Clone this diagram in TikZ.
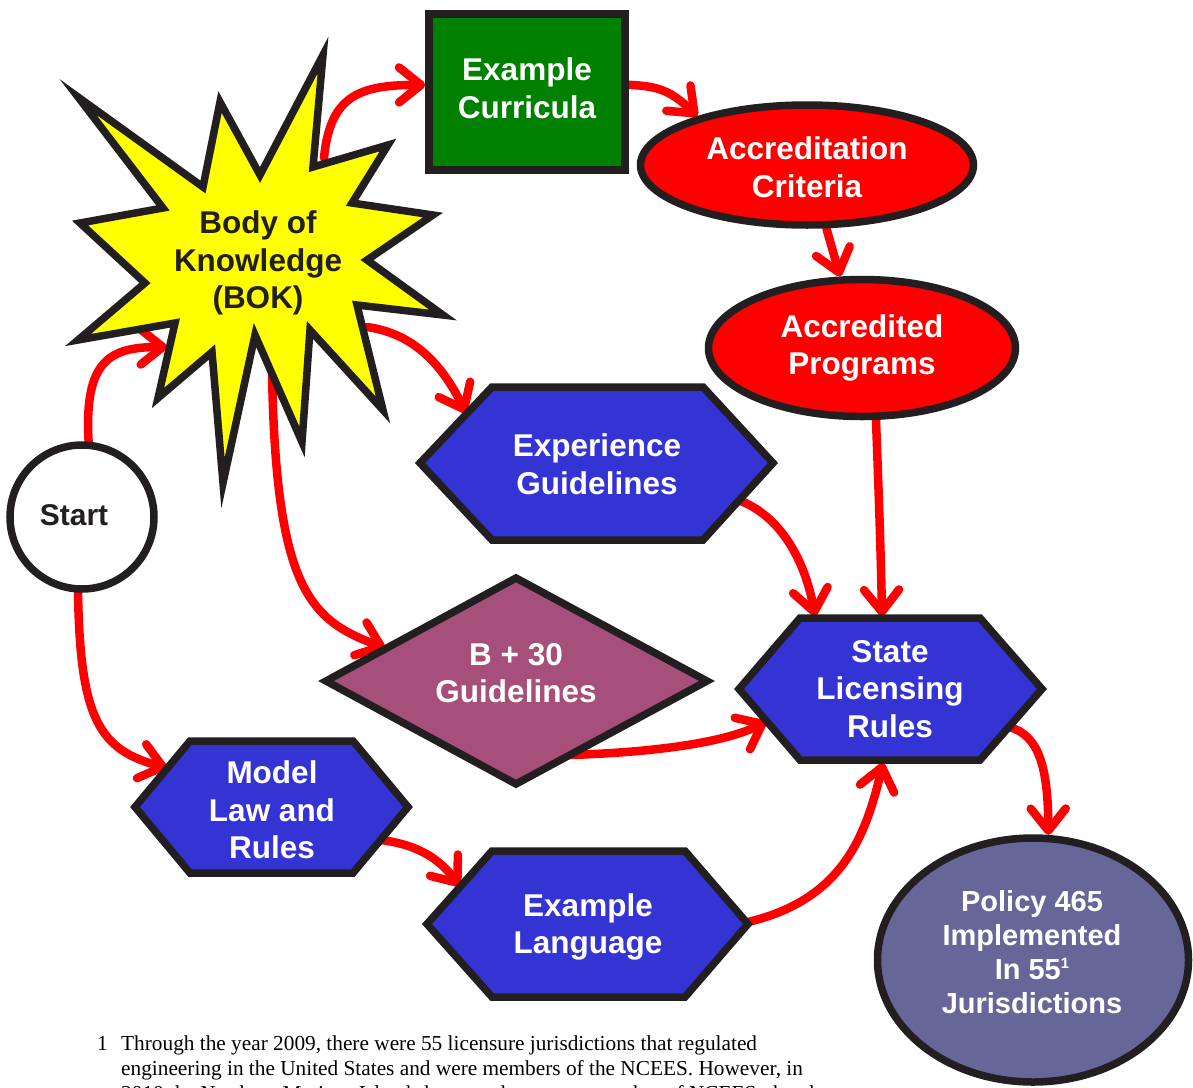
\documentclass[tikz,border=0pt]{standalone}
\usepackage{fontspec}
\setmainfont{Liberation Sans}
\newfontfamily\notefont{Liberation Serif}
\usetikzlibrary{arrows.meta,shapes.geometric}
\pgfdeclarelayer{bg}
\pgfsetlayers{bg,main}
\definecolor{ink}{RGB}{35,31,32}
\definecolor{flowred}{RGB}{255,0,0}
\definecolor{hexblue}{RGB}{52,52,212}
\definecolor{leafgreen}{RGB}{0,128,0}
\definecolor{mauve}{RGB}{166,79,122}
\definecolor{slate}{RGB}{102,102,153}
\definecolor{burst}{RGB}{255,255,0}
\begin{document}
\begin{tikzpicture}[x=1pt,y=-1pt,
  shapeline/.style={draw=ink, line width=7.5pt, line join=miter, miter limit=20},
  txt/.style={text=white, font=\bfseries\fontsize{31.5}{37.5}\selectfont, align=center, inner sep=0pt},
  darktxt/.style={txt, text=ink},
  flow/.style={draw=flowred, line width=8.5pt, line cap=round,
    -{Straight Barb[round,length=22pt,width=35pt]}},
  notetxt/.style={font=\notefont\fontsize{21.3}{25}\selectfont, inner sep=0pt, anchor=base west}]
\useasboundingbox (0,0) rectangle (1193,1087);

% Start
\node[circle, shapeline, fill=white, minimum size=144pt, inner sep=0pt] (start) at (82,517) {};
\node[darktxt, font=\bfseries\fontsize{30}{36}\selectfont] (starttxt) at (74,515) {Start};

% Body of Knowledge burst
\draw[shapeline, fill=burst]
  (323,55) -- (313,167) -- (388,145) -- (352,203) -- (433,215) -- (367,260)
  -- (443,315) -- (357,305) -- (383,410) -- (310,330) -- (302,442) -- (255,335)
  -- (223,483) -- (212,352) -- (158,398) -- (175,323) -- (78,340) -- (145,283)
  -- (80,223) -- (163,208) -- (78,97) -- (203,187) -- (220,102) -- (260,175) -- cycle;
\node[darktxt] (bok) at (258,263) {Body of\\Knowledge\\(BOK)};
\coordinate (bok-a) at (167,347);
\coordinate (bok-b) at (324,158);
\coordinate (bok-c) at (367,327);
\coordinate (bok-d) at (272,372);

% Example Curricula
\node[rectangle, shapeline, fill=leafgreen, minimum width=196pt, minimum height=156pt] (ec) at (527,92) {};
\node[txt] (ectxt) at (527,88) {Example\\Curricula};

% Accreditation ellipses
\node[ellipse, shapeline, fill=flowred, minimum width=333pt, minimum height=120pt] (ac) at (807,165) {};
\node[txt] (actxt) at (807,167) {Accreditation\\Criteria};
\node[ellipse, shapeline, fill=flowred, minimum width=307pt, minimum height=137pt, txt] (ap) at (862,348) {Accredited\\Programs};

% Experience Guidelines
\draw[shapeline, fill=hexblue] (420,463) -- (492,387) -- (703,387) -- (773,463) -- (703,540) -- (492,540) -- cycle;
\node[txt] (exp) at (597,464) {Experience\\Guidelines};
\coordinate (exp-in) at (466,413);
\coordinate (exp-out) at (738,500);

% B + 30 Guidelines
\draw[shapeline, fill=mauve] (516,578) -- (707,681) -- (516,784) -- (326,681) -- cycle;
\node[txt] (b30) at (516,673) {B + 30\\Guidelines};
\coordinate (b30-in) at (385,648);
\coordinate (b30-out) at (570,755);

% State Licensing Rules
\draw[shapeline, fill=hexblue] (739,689) -- (800,618) -- (980,618) -- (1042,689) -- (980,760) -- (800,760) -- cycle;
\node[txt] (slr) at (890,689) {State\\Licensing\\Rules};
\coordinate (slr-ta) at (815,616);
\coordinate (slr-tb) at (882,616);
\coordinate (slr-l) at (766,722);
\coordinate (slr-b) at (883,763);
\coordinate (slr-out) at (1009,727);

% Model Law and Rules
\draw[shapeline, fill=hexblue] (135,807) -- (190,741) -- (353,741) -- (408,807) -- (353,873) -- (190,873) -- cycle;
\node[txt] (model) at (272,810) {Model\\Law and\\Rules};
\coordinate (model-in) at (167,768);
\coordinate (model-out) at (381,840);

% Example Language
\draw[shapeline, fill=hexblue] (427,924) -- (492,851) -- (685,851) -- (748,924) -- (685,997) -- (492,997) -- cycle;
\node[txt] (exl) at (588,927) {Example\\Language};
\coordinate (exl-in) at (460,886);
\coordinate (exl-out) at (748,922);

% Policy 465
\node[ellipse, shapeline, fill=slate, minimum width=311pt, minimum height=244pt] (policy) at (1033,960) {};
\node[txt, font=\bfseries\fontsize{29}{34}\selectfont] (policytxt) at (1032,952)
  {Policy 465\\Implemented\\In 55\raisebox{11pt}{\fontsize{15}{15}\selectfont 1}\\Jurisdictions};

% Connectors
\begin{pgfonlayer}{bg}
\draw[flow] (start.85) .. controls (84,360) and (110,347) .. (bok-a);
\draw[flow] (bok-b) .. controls (330,95) and (360,85) .. (ec.176);
\draw[flow] (ec.4) .. controls (660,86) and (672,92) .. (ac.156);
\draw[flow] (ac.-73) -- (ap.107);
\draw[flow] (ap.-79) .. controls (879,500) and (881,560) .. (slr-tb);
\draw[flow] (bok-c) .. controls (410,333) and (440,360) .. (exp-in);
\draw[flow] (bok-d) .. controls (276,590) and (310,620) .. (b30-in);
\draw[flow] (start.-93) .. controls (80,720) and (100,750) .. (model-in);
\draw[flow] (exp-out) .. controls (780,515) and (805,560) .. (slr-ta);
\draw[flow] (b30-out) .. controls (660,752) and (725,742) .. (slr-l);
\draw[flow] (model-out) .. controls (420,845) and (440,860) .. (exl-in);
\draw[flow] (exl-out) .. controls (840,900) and (865,840) .. (slr-b);
\draw[flow] (slr-out) .. controls (1040,735) and (1048,770) .. (policy.83);
\end{pgfonlayer}

% Footnote
\node[notetxt] (fnmark) at (97,1050) {1};
\node[notetxt] (fn1) at (121,1050) {Through the year 2009, there were 55 licensure jurisdictions that regulated};
\node[notetxt] (fn2) at (121,1075) {engineering in the United States and were members of the NCEES. However, in};
\node[notetxt] (fn3) at (121,1100) {2010 the Northern Mariana Islands became the newest member of NCEES, thereby};
\end{tikzpicture}
\end{document}
